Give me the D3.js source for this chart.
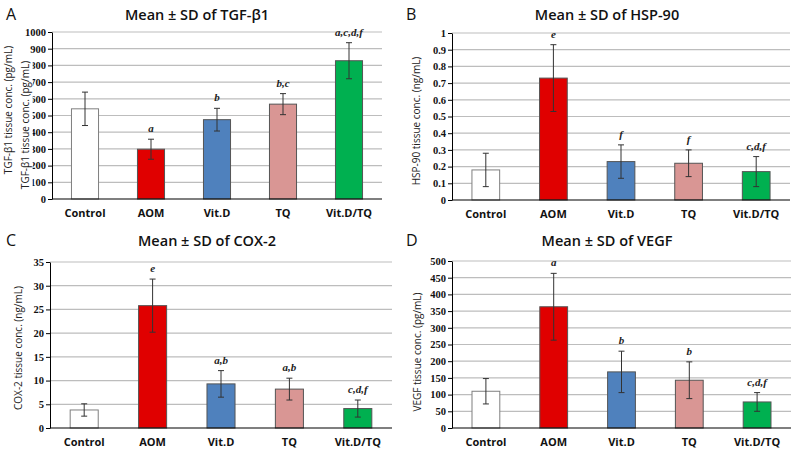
<!DOCTYPE html>
<html>
<head>
<meta charset="utf-8">
<script src="https://cdn.jsdelivr.net/npm/d3@7/dist/d3.min.js"></script>
<style>
  html, body { margin: 0; padding: 0; background: #fff; }
  svg { display: block; }
</style>
</head>
<body>
<svg id="chart" width="800" height="452"></svg>
<script>
// ---------- DATA ----------
const categories = ["Control", "AOM", "Vit.D", "TQ", "Vit.D/TQ"];
const barColors = ["#ffffff", "#e00000", "#4f81bd", "#d99694", "#00b050"];

const tgfMean = [540, 298, 475, 568, 828];
const tgfSD   = [100, 60, 68, 63, 108];
const tgfSig  = ["", "a", "b", "b,c", "a,c,d,f"];
const tgfTicks = [0, 100, 200, 300, 400, 500, 600, 700, 800, 900, 1000];

const hspMean = [0.18, 0.73, 0.23, 0.22, 0.17];
const hspSD   = [0.10, 0.20, 0.10, 0.08, 0.09];
const hspSig  = ["", "e", "f", "f", "c,d,f"];
const hspTicks = [0, 0.1, 0.2, 0.3, 0.4, 0.5, 0.6, 0.7, 0.8, 0.9, 1];

const coxMean = [3.8, 25.8, 9.3, 8.2, 4.1];
const coxSD   = [1.3, 5.6, 2.8, 2.3, 1.8];
const coxSig  = ["", "e", "a,b", "a,b", "c,d,f"];
const coxTicks = [0, 5, 10, 15, 20, 25, 30, 35];

const vegfMean = [110, 363, 168, 143, 78];
const vegfSD   = [38, 100, 62, 55, 28];
const vegfSig  = ["", "a", "b", "b", "c,d,f"];
const vegfTicks = [0, 50, 100, 150, 200, 250, 300, 350, 400, 450, 500];

// ---------- LAYOUT ----------
const panels = [
  { letter: "A", title: "Mean ± SD of TGF-β1", ylabel: "TGF-β1 tissue conc. (pg/mL)",
    mean: tgfMean, sd: tgfSD, sig: tgfSig, ticks: tgfTicks,
    box: { x0: 52, x1: 382, y0: 32, y1: 199 }, ox: 0, oy: 0, titleX: 197, labelX: 9, labelY: 110, dup: true },
  { letter: "B", title: "Mean ± SD of HSP-90", ylabel: "HSP-90 tissue conc. (ng/mL)",
    mean: hspMean, sd: hspSD, sig: hspSig, ticks: hspTicks,
    box: { x0: 452, x1: 790, y0: 33, y1: 200 }, ox: 400, oy: 0, titleX: 607, labelX: 417, labelY: 121 },
  { letter: "C", title: "Mean ± SD of COX-2", ylabel: "COX-2 tissue conc. (ng/mL)",
    mean: coxMean, sd: coxSD, sig: coxSig, ticks: coxTicks,
    box: { x0: 50, x1: 392, y0: 262, y1: 428 }, ox: 0, oy: 226, titleX: 207, labelX: 19, labelY: 348 },
  { letter: "D", title: "Mean ± SD of VEGF", ylabel: "VEGF tissue conc. (pg/mL)",
    mean: vegfMean, sd: vegfSD, sig: vegfSig, ticks: vegfTicks,
    box: { x0: 452, x1: 791, y0: 261, y1: 428 }, ox: 400, oy: 226, titleX: 607, labelX: 418, labelY: 352 }
];

const svg = d3.select("#chart");
const sans = "'Open Sans', 'Liberation Sans', sans-serif";
const serif = "'Liberation Serif', 'DejaVu Serif', serif";

panels.forEach(p => {
  const g = svg.append("g");
  const b = p.box;
  const x = d3.scaleBand().domain(categories).range([b.x0, b.x1])
    .paddingInner(0.59).paddingOuter(0.295);
  const ticks = p.ticks;
  const y = d3.scaleLinear().domain([ticks[0], ticks[ticks.length - 1]]).range([b.y1, b.y0]);

  // panel letter
  g.append("text").attr("x", p.ox + 6).attr("y", p.oy + 20)
    .attr("font-family", sans).attr("font-size", 16).attr("fill", "#111").text(p.letter);

  // title
  g.append("text").attr("x", p.titleX).attr("y", p.oy + 20)
    .attr("text-anchor", "middle").attr("font-family", sans).attr("font-size", 14.5)
    .attr("font-weight", 600).attr("fill", "#111").text(p.title);

  // gridlines
  g.append("g").selectAll("line").data(ticks.slice(1)).join("line")
    .attr("x1", b.x0).attr("x2", b.x1)
    .attr("y1", d => y(d)).attr("y2", d => y(d))
    .attr("stroke", "#bdbdbd").attr("stroke-width", 1.2);

  // y axis
  const yAxis = g.append("g").attr("transform", `translate(${b.x0},0)`)
    .call(d3.axisLeft(y).tickValues(ticks).tickSize(4).tickSizeOuter(0).tickFormat(d3.format("")));
  yAxis.select(".domain").attr("stroke", "#000");
  yAxis.selectAll(".tick line").attr("stroke", "#000");
  yAxis.selectAll(".tick text").attr("font-family", serif).attr("font-size", 10.5)
    .attr("font-weight", "bold").attr("fill", "#111").attr("x", -6);

  // bars
  g.append("g").selectAll("rect").data(categories).join("rect")
    .attr("x", d => x(d)).attr("width", x.bandwidth())
    .attr("y", (d, i) => y(p.mean[i])).attr("height", (d, i) => y(0) - y(p.mean[i]))
    .attr("fill", (d, i) => barColors[i])
    .attr("stroke", (d, i) => i === 0 ? "#7f7f7f" : "#555").attr("stroke-width", 1);

  // x axis line
  g.append("line").attr("x1", b.x0).attr("x2", b.x1).attr("y1", y(0)).attr("y2", y(0))
    .attr("stroke", "#000").attr("stroke-width", 1.2);

  // error bars
  const eb = g.append("g").attr("stroke", "#333").attr("stroke-width", 1);
  categories.forEach((c, i) => {
    const cx = x(c) + x.bandwidth() / 2;
    const hi = y(p.mean[i] + p.sd[i]), lo = y(p.mean[i] - p.sd[i]);
    eb.append("line").attr("x1", cx).attr("x2", cx).attr("y1", hi).attr("y2", lo);
    eb.append("line").attr("x1", cx - 3).attr("x2", cx + 3).attr("y1", hi).attr("y2", hi);
    eb.append("line").attr("x1", cx - 3).attr("x2", cx + 3).attr("y1", lo).attr("y2", lo);
    if (p.sig[i]) {
      g.append("text").attr("x", cx).attr("y", hi - 7).attr("text-anchor", "middle")
        .attr("font-family", serif).attr("font-size", 11).attr("font-style", "italic")
        .attr("font-weight", "bold").attr("fill", "#222").text(p.sig[i]);
    }
  });

  // category labels
  g.append("g").selectAll("text").data(categories).join("text")
    .attr("x", d => x(d) + x.bandwidth() / 2).attr("y", b.y1 + 18)
    .attr("text-anchor", "middle").attr("font-family", sans).attr("font-size", 11)
    .attr("font-weight", "bold").attr("fill", "#111").text(d => d);

  // y label
  g.append("text").attr("transform", `translate(${p.labelX},${p.labelY}) rotate(-90)`)
    .attr("text-anchor", "middle").attr("dominant-baseline", "middle")
    .attr("font-family", sans).attr("font-size", 10).attr("fill", "#222").text(p.ylabel);

  if (p.dup) {
    const lx = 26, ly = 125;
    const t2 = g.append("g").attr("transform", `translate(${lx},${ly}) rotate(-90)`);
    const bg = t2.append("rect").attr("fill", "#fff");
    const tt = t2.append("text").attr("text-anchor", "middle").attr("dominant-baseline", "middle")
      .attr("font-family", sans).attr("font-size", 10).attr("fill", "#222").text(p.ylabel);
    const bb = tt.node().getBBox();
    bg.attr("x", bb.x - 1).attr("y", bb.y - 1).attr("width", bb.width + 2).attr("height", bb.height + 2);
  }
});
</script>
</body>
</html>
